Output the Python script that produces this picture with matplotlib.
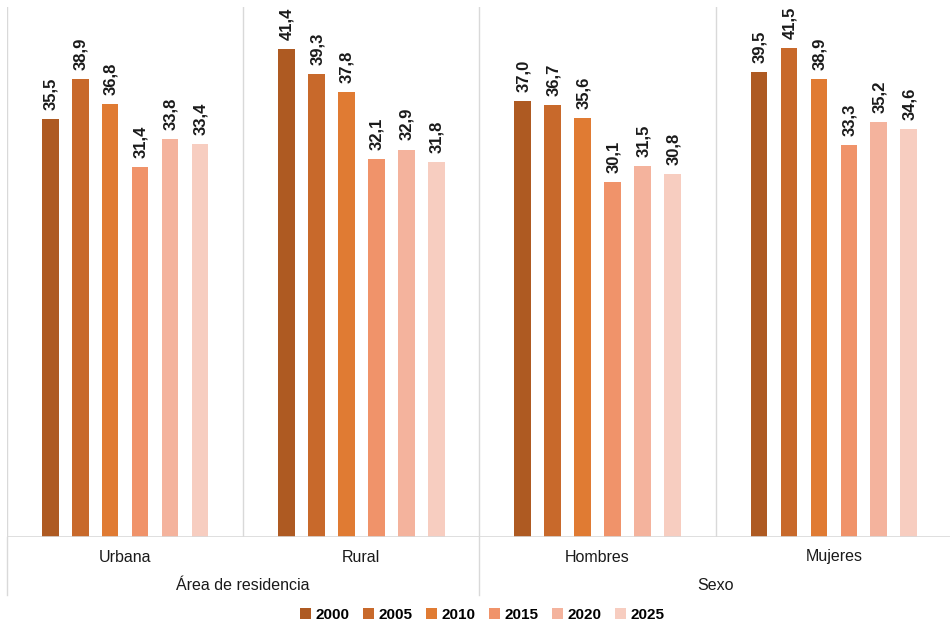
import numpy as np
import matplotlib
matplotlib.use("Agg")
import matplotlib.pyplot as plt
from matplotlib.patches import Patch
import matplotlib.transforms as mtransforms

plt.rcParams['font.family'] = ['Liberation Sans', 'DejaVu Sans']

categories = ["Urbana", "Rural", "Hombres", "Mujeres"]
groups = ["Área de residencia", "Sexo"]
years = ["2000", "2005", "2010", "2015", "2020", "2025"]
v2000 = [35.5, 41.4, 37.0, 39.5]
v2005 = [38.9, 39.3, 36.7, 41.5]
v2010 = [36.8, 37.8, 35.6, 38.9]
v2015 = [31.4, 32.1, 30.1, 33.3]
v2020 = [33.8, 32.9, 31.5, 35.2]
v2025 = [33.4, 31.8, 30.8, 34.6]
series = [v2000, v2005, v2010, v2015, v2020, v2025]
colors = ["#AE5A22", "#C8692B", "#E07B33", "#F0936A", "#F4B39D", "#F7CDC0"]

W, H = 950, 626
fig = plt.figure(figsize=(W / 100, H / 100), dpi=100)
ax = fig.add_axes([7 / W, (H - 537) / H, 945 / W, 530 / H])

x = np.arange(len(categories))
pitch = 0.1267
width = 0.0706
for i, vals in enumerate(series):
    pos = x + (i - 2.5) * pitch
    bars = ax.bar(pos, vals, width, color=colors[i], zorder=3)
    for b, v in zip(bars, vals):
        ax.annotate(f"{v:.1f}".replace(".", ","),
                    (b.get_x() + b.get_width() / 2, v),
                    xytext=(0.5, 6.5), textcoords="offset points",
                    rotation=90, ha="center", va="bottom",
                    fontsize=12, fontweight="bold", color="#1a1a1a")

ax.set_xlim(-0.5, 3.5)
ax.set_ylim(0, 45)
for s in ax.spines.values():
    s.set_visible(False)
ax.set_xticks([])
ax.set_yticks([])

grey = "#D9D9D9"
ax.axhline(0, color=grey, lw=1.2, zorder=4)
for sep in [-0.5, 0.5, 1.5, 2.5]:
    ax.axvline(sep, color=grey, lw=1, zorder=1)

trans = mtransforms.blended_transform_factory(ax.transData, ax.transAxes)
low = -(595 - 537) / 530
for sep in [-0.5, 1.5]:
    ax.plot([sep, sep], [0, low], color=grey, lw=1, transform=trans, clip_on=False)

for xi, c in zip(x, categories):
    ax.text(xi, -(557 - 537) / 530, c, transform=trans, ha="center", va="center",
            fontsize=11.5, color="#1a1a1a")
for gx, g in zip([0.5, 2.5], groups):
    ax.text(gx, -(585 - 537) / 530, g, transform=trans, ha="center", va="center",
            fontsize=11.5, color="#1a1a1a")

handles = [Patch(facecolor=c, label=y) for c, y in zip(colors, years)]
fig.legend(handles=handles, loc="center", bbox_to_anchor=(482 / W, 1 - 615 / H),
           ncol=6, frameon=False, handlelength=0.75, handleheight=0.75,
           handletextpad=0.25, columnspacing=0.9,
           prop={"size": 11, "weight": "bold"})

fig.savefig("out.png", dpi=100)
